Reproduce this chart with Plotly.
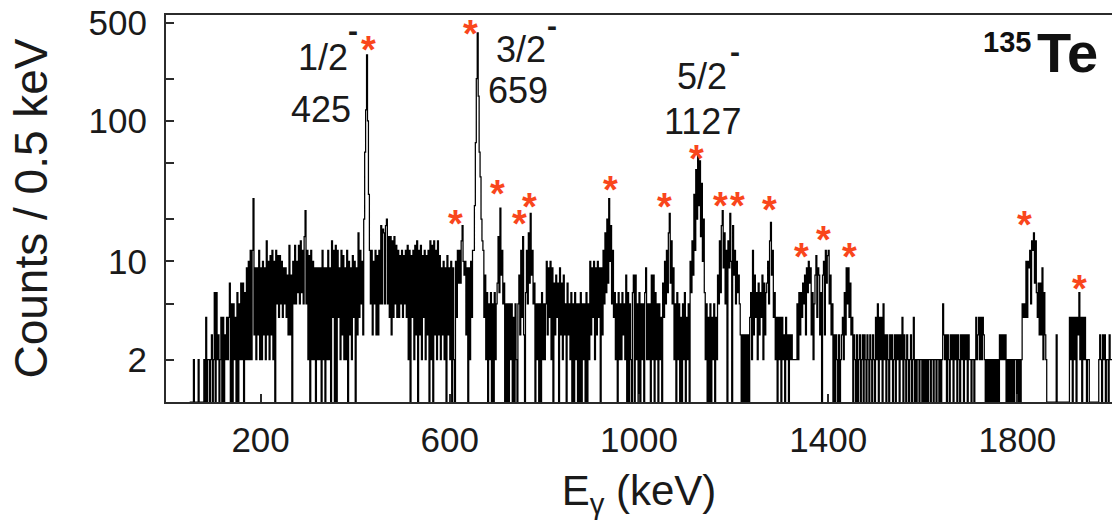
import math
import plotly.graph_objects as go

# ---------------- data (counts per bin) ----------------
bin_start_kev = 50
bin_width_kev = 2

counts_0050_0200 = """
1 1 1 1 2  1 1 1 1 2  1 1 1 1 1  2 1 4 1 2  2 1 2 3 1
2 6 1 6 2  3 1 2 4 1  4 1 3 2 4  2 4 7 1 5  1 5 2 4 1
6 1 5 2 7  2 7 1 6 2  9 2 10 2 12  2 12 28 3 9  2 9 3 12 2
"""
counts_0200_0400 = """
9 2 10 3 9  2 14 3 10 2  11 3 12 2 10  1 12 5 11 4  11 5 10 4 9
5 9 4 8 3  13 3 8 1 10  5 13 5 10 6  13 5 14 6 12  5 15 23 5 12
2 11 1 12 2  10 2 9 1 9  2 9 2 9 1  12 2 9 1 9  2 12 2 9 1
14 4 12 1 13  1 12 4 9 2  12 3 11 2 9  2 12 1 10 3  9 2 11 4 10
"""
counts_0400_0600 = """
1 9 3 16 4  12 5 10 3 20  60 120 295 100 30  12 5 12 3 10  5 12 3 11 3
12 5 18 5 17  16 5 18 20 5  15 4 15 3 14  4 15 5 13 4  12 4 11 5 12
4 11 5 12 4  13 2 12 1 11  4 12 2 13 3  14 1 12 3 13  2 11 4 12 2
11 3 12 1 14  2 13 1 14 3  12 2 14 3 11  2 9 3 10 2  9 1 11 3 9
"""
counts_0600_0800 = """
2 10 1 9 2  1 10 4 12 7  12 7 14 18 10  8 10 3 9 1  9 2 10 4 12
12 25 70 200 423  150 60 40 20 14  12 4 8 2 6  1 5 2 6 1  5 1 6 2 5
7 15 6 24 8  12 5 7 1 5  1 5 1 5 2  5 1 4 1 5  2 1 5 8 3
12 4 15 3 1  6 12 5 16 7  22 8 12 5 7  1 5 2 5 1  5 1 6 2 5
"""
counts_0800_1000 = """
2 5 10 3 9  4 10 2 9 1  7 3 8 4 7  1 9 3 7 2  8 3 5 1 7
3 5 2 6 1  5 1 6 2 5  1 5 1 6 1  5 2 5 1 6  1 5 2 10 3
9 4 10 2 9  3 10 4 9 1  9 3 12 5 16  6 20 7 28 10  18 5 12 4 6
2 5 1 6 2  5 2 6 3 5  2 8 1 6 1  5 2 1 6 8  1 8 2 5 1
"""
counts_1000_1200 = """
6 1 5 2 5  1 6 9 2 5  2 5 1 8 2  8 1 6 2 5  1 5 2 4 1
7 4 10 5 12  6 16 22 7 14  5 9 2 5 1  6 2 5 1 4  1 5 2 6 1
4 2 5 1 10  6 14 8 30 12  45 20 57 25 52  15 36 10 20 6  2 5 1 4 1
5 1 4 2 5  1 4 2 8 5  14 6 18 23 9  16 5 12 1 14  9 22 10 1 18
"""
counts_1200_1400 = """
8 12 5 10 6  8 5 3 1 3  1 3 1 3 1  3 1 4 6 2  12 3 8 4 6
2 7 3 6 4  8 2 7 3 6  7 10 5 14 19  8 12 4 6 2  4 1 4 2 4
1 4 2 3 1  4 2 3 1 3  2 3 2 2 2  2 2 5 2 6  3 6 4 7 5
8 3 9 6 10  7 9 3 6 2  5 8 11 4 9  8 3 6 1 8  10 3 12 7 11
"""
counts_1400_1600 = """
12 5 8 3 5  1 3 1 3 2  1 3 1 2 3  4 2 6 3 9  5 9 4 7 3
4 1 3 2 1  3 1 2 3 1  2 3 1 3 2  1 3 2 1 3  2 1 3 2 1
4 2 5 1 4  2 4 1 5 2  3 1 3 2 1  3 2 3 1 2  3 1 3 2 3
1 3 2 4 1  3 2 1 3 2  1 2 3 1 2  4 1 2 1 2  2 1 2 2 1
"""
counts_1600_1800 = """
2 1 2 1 2  1 2 2 1 2  2 1 2 2 1  2 2 1 2 1  2 5 3 2 3
1 3 2 1 3  2 3 1 3 2  3 1 3 2 1  3 2 3 1 3  2 3 1 3 2
2 1 2 2 1  2 4 2 3 4  2 4 2 4 3  2 1 2 1 2  1 2 1 2 1
2 1 2 1 2  1 3 2 3 2  3 2 3 1 2  1 2 1 2 1  2 1 2 2 1
"""
counts_1800_2000 = """
2 1 2 1 2  5 4 5 4 10  4 10 9 12 5  14 12 16 7 14  6 4 7 3 7
3 9 2 6 3  2 1 1 1 1  1 1 1 1 1  1 3 1 1 1  1 1 1 1 1
1 1 1 1 1  4 2 4 1 4  2 4 1 4 3  6 2 4 1 4  2 4 2 1 2
2 1 1 1 1  1 1 1 1 1  1 2 3 2 1  3 2 3 1 2  2 1 3 2 2
"""

# peaks marked with an asterisk (energy in keV, count level of the mark)
star_kev = [429, 644, 611, 701, 748, 768, 939, 1053, 1122, 1173, 1208, 1276,
            1344, 1391, 1445, 1816, 1931]
star_counts = [359, 469, 20.8, 34, 20.8, 27.4, 36, 27.4, 60.5, 27.7, 27.7, 26,
               12.1, 15.9, 12.1, 20.3, 7.2]

# labelled transitions
level_spins = ["1/2", "3/2", "5/2"]
level_energies = ["425", "659", "1127"]

x_tick_vals = [200, 600, 1000, 1400, 1800]
y_tick_vals = [2, 5, 10, 20, 50, 100, 200, 500]
y_tick_text = ["2", "", "10", "", "", "100", "", "500"]

# ---------------- build ----------------
segments = [counts_0050_0200, counts_0200_0400, counts_0400_0600, counts_0600_0800,
            counts_0800_1000, counts_1000_1200, counts_1200_1400, counts_1400_1600,
            counts_1600_1800, counts_1800_2000]
counts = [int(v) for s in segments for v in s.split()]
edges = [bin_start_kev + bin_width_kev * i for i in range(len(counts) + 1)]

FONT = "Liberation Sans, Arial, Helvetica, sans-serif"
STAR_COLOR = "#f9461c"
AXIS_COLOR = "#2b2b2b"
TEXT_COLOR = "#1a1a1a"

fig = go.Figure()
fig.add_trace(go.Scatter(
    x=edges, y=counts + [counts[-1]], mode="lines",
    line=dict(color="#000000", width=1.25, shape="hv", simplify=False),
    hoverinfo="skip",
))

annotations = []
for e, c in zip(star_kev, star_counts):
    annotations.append(dict(
        x=e, y=math.log10(c), xref="x", yref="y", text="<b>*</b>", showarrow=False,
        font=dict(family=FONT, size=38, color=STAR_COLOR), xanchor="center",
        yanchor="middle", yshift=-7))

# level labels (paper positions)
spin_pos = [(0.166, 0.891), (0.375, 0.910), (0.567, 0.842)]
minus_pos = [(0.198, 0.953), (0.408, 0.964), (0.601, 0.897)]
energy_pos = [(0.164, 0.755), (0.372, 0.804), (0.567, 0.724)]
for sp, mp, ep, s, en in zip(spin_pos, minus_pos, energy_pos, level_spins, level_energies):
    annotations.append(dict(x=sp[0], y=sp[1], xref="paper", yref="paper", text=s,
                            showarrow=False, xanchor="center", yanchor="middle",
                            font=dict(family=FONT, size=36, color=TEXT_COLOR)))
    annotations.append(dict(x=mp[0], y=mp[1], xref="paper", yref="paper", text="<b>-</b>",
                            showarrow=False, xanchor="center", yanchor="middle", yshift=3,
                            font=dict(family=FONT, size=30, color=TEXT_COLOR)))
    annotations.append(dict(x=ep[0], y=ep[1], xref="paper", yref="paper", text=en,
                            showarrow=False, xanchor="center", yanchor="middle",
                            font=dict(family=FONT, size=36, color=TEXT_COLOR)))

# nucleus label
annotations.append(dict(x=(1033 - 166) / 946, y=(402 - 42) / 387, xref="paper", yref="paper",
                        text="<b>135</b>", showarrow=False, xanchor="right", yanchor="middle",
                        font=dict(family=FONT, size=29, color="#111111")))
annotations.append(dict(x=(1035 - 166) / 946, y=(402 - 52) / 387, xref="paper", yref="paper",
                        text="<b>Te</b>", showarrow=False, xanchor="left", yanchor="middle",
                        font=dict(family=FONT, size=56, color="#111111")))

fig.update_layout(
    width=1112, height=527,
    margin=dict(l=166, r=0, t=15, b=125),
    plot_bgcolor="white", paper_bgcolor="white",
    showlegend=False,
    font=dict(family=FONT, color=TEXT_COLOR),
    annotations=annotations,
    xaxis=dict(
        range=[0, 2000], tickvals=x_tick_vals, ticks="inside", ticklen=8, tickwidth=2,
        tickcolor=AXIS_COLOR, showline=True, linewidth=2, linecolor=AXIS_COLOR,
        mirror=True, showgrid=False, zeroline=False, automargin=False,
        tickfont=dict(family=FONT, size=35, color=TEXT_COLOR), ticklabelstandoff=6,
        title=dict(text="E<sub>γ</sub> (keV)", font=dict(family=FONT, size=42, color=TEXT_COLOR),
                   standoff=18),
    ),
    yaxis=dict(
        type="log", range=[0, 2.754], tickvals=y_tick_vals, ticktext=y_tick_text,
        ticks="inside", ticklen=8, tickwidth=2, tickcolor=AXIS_COLOR,
        showline=True, linewidth=2, linecolor=AXIS_COLOR, mirror=False,
        showgrid=False, zeroline=False, automargin=False,
        tickfont=dict(family=FONT, size=35, color=TEXT_COLOR), ticklabelstandoff=10,
        title=dict(text="Counts / 0.5 keV", font=dict(family=FONT, size=46, color=TEXT_COLOR),
                   standoff=26),
    ),
)

fig.write_html("out.html", config={"displayModeBar": False},
               post_script="document.body.style.margin='0px';document.body.style.overflow='hidden';")
